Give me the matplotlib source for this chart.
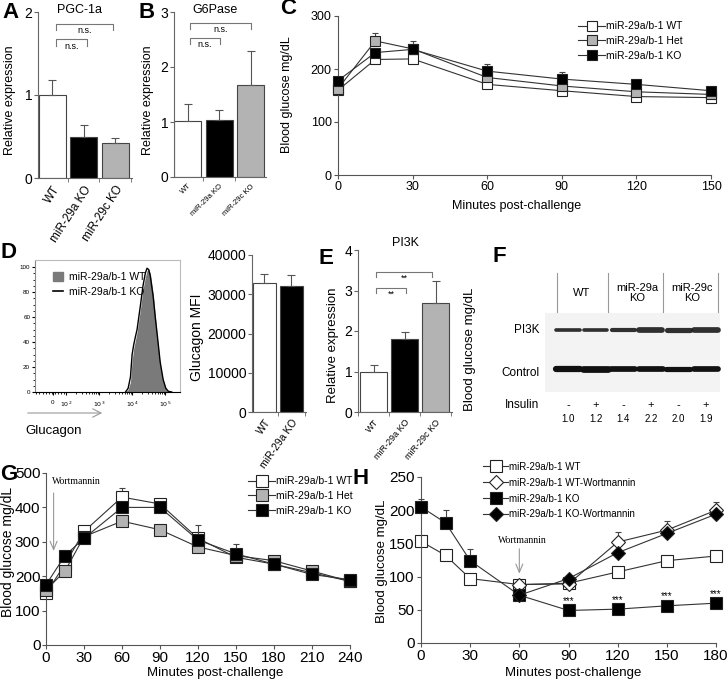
import numpy as np
import matplotlib
matplotlib.use('Agg')
from matplotlib import pyplot as plt, patches
from matplotlib.lines import Line2D

plt.rcParams['font.family'] = ['Liberation Sans', 'DejaVu Sans']
plt.rcParams['axes.linewidth'] = 0.8

W, H = 728, 682

# A: PGC-1a qPCR
pgc_groups = ['WT', 'miR-29a KO', 'miR-29c KO']
pgc_mean = [1.0, 0.50, 0.42]
pgc_err = [0.18, 0.14, 0.06]

# B: G6Pase qPCR
g6p_mean = [1.02, 1.04, 1.68]
g6p_err = [0.30, 0.18, 0.62]

# C: glucose tolerance
gtt_min = [0, 15, 30, 60, 90, 120, 150]
gtt_wt = [160, 218, 219, 171, 159, 148, 146]
gtt_het = [163, 253, 238, 184, 168, 157, 152]
gtt_ko = [178, 231, 237, 196, 181, 171, 159]
gtt_wt_err = [4, 6, 6, 5, 4, 4, 3]
gtt_het_err = [5, 14, 6, 6, 5, 4, 3]
gtt_ko_err = [6, 8, 16, 14, 14, 5, 4]

# D: glucagon flow histogram (x in decades) and MFI
hist_dec = [3.80, 3.88, 3.95, 4.00, 4.05, 4.09, 4.15, 4.24, 4.33, 4.40, 4.45,
            4.50, 4.55, 4.64, 4.70, 4.76, 4.85, 4.94, 5.02, 5.10, 5.20]
hist_wt = [0, 2, 8, 25, 35, 40, 48, 64, 82, 92, 97, 99, 95, 78, 62, 45, 22, 9, 3, 0.5, 0]
hist_ko = [0, 3, 12, 30, 38, 43, 50, 67, 85, 95, 99, 98, 93, 76, 60, 46, 24, 10, 3, 0.5, 0]
mfi_groups = ['WT', 'miR-29a KO']
mfi_mean = [32800, 32100]
mfi_err = [2300, 2700]

# E: PI3K qPCR
pi3k_mean = [1.0, 1.80, 2.69]
pi3k_err = [0.15, 0.18, 0.54]

# F: western blot
blot_groups = ['WT', 'miR-29a\nKO', 'miR-29c\nKO']
blot_insulin = ['-', '+', '-', '+', '-', '+']
blot_quant = ['1.0', '1.2', '1.4', '2.2', '2.0', '1.9']
band_pi3k = [3.5, 3.5, 4.0, 5.5, 5.0, 5.5]
band_ctrl = [6.0, 6.5, 5.5, 5.5, 5.0, 5.5]

# G: wortmannin challenge
wort_min = [0, 15, 30, 60, 90, 120, 150, 180, 210, 240]
wort_wt = [150, 235, 330, 430, 410, 310, 255, 235, 210, 185]
wort_het = [160, 215, 315, 360, 335, 285, 260, 245, 215, 185]
wort_ko = [175, 260, 310, 400, 400, 305, 265, 235, 205, 190]
wort_wt_err = [8, 10, 15, 25, 15, 10, 8, 6, 6, 5]
wort_ko_err = [10, 12, 10, 15, 12, 45, 30, 8, 6, 5]

# H: insulin tolerance +/- wortmannin
itt_min = [0, 15, 30, 60, 90, 120, 150, 180]
itt_wt = [153, 132, 97, 88, 90, 107, 124, 131]
itt_ko = [205, 181, 124, 72, 49, 51, 56, 60]
itt_ko_err = [12, 20, 17, 3, 3, 3, 3, 3]
wm_min = [60, 90, 120, 150, 180]
itt_wt_wm = [88, 89, 152, 170, 200]
itt_ko_wm = [72, 97, 136, 165, 194]
itt_wt_wm_err = [4, 5, 15, 14, 12]
star_min = [90, 120, 150, 180]

legend_names = ['miR-29a/b-1 WT', 'miR-29a/b-1 Het', 'miR-29a/b-1 KO']
GREY = '#b3b3b3'


def px_axes(fig, left, top, right, bottom):
    """Add axes from pixel box (origin top-left)."""
    return fig.add_axes([left / W, 1 - bottom / H, (right - left) / W, (bottom - top) / H])


def ftext(fig, x, y, s, **kw):
    fig.text(x / W, 1 - y / H, s, **kw)


def bar_panel(ax, means, errs, colors, labels, lsize, rot, fs=10):
    x = np.arange(len(means))
    ax.bar(x, means, width=0.86, color=colors, edgecolor='#444444', linewidth=0.8, zorder=2)
    ax.errorbar(x, means, yerr=[np.zeros(len(errs)), errs], fmt='none', ecolor='#555555',
                elinewidth=0.8, capsize=3, capthick=0.8, zorder=3)
    ax.spines[['top', 'right']].set_visible(False)
    for s in ['left', 'bottom']:
        ax.spines[s].set_color('#666666')
    ax.set_xticks(x)
    ax.set_xticklabels(labels, rotation=rot, ha='right', rotation_mode='anchor', fontsize=lsize)
    ax.set_xticks(np.arange(len(means) + 1) - 0.5, minor=True)
    ax.tick_params(axis='x', which='major', length=0, pad=4)
    ax.tick_params(axis='x', which='minor', length=3, color='#666666')
    ax.tick_params(axis='y', length=3, color='#666666', labelsize=fs, pad=1)


def bracket(ax, x0, x1, y, h, text, fs=6.5):
    ax.plot([x0, x0, x1, x1], [y - h, y, y, y - h], color='#777777', lw=0.8, clip_on=False)
    ax.text((x0 + x1) / 2, y - h * 0.4, text, ha='center', va='top', fontsize=fs)


def style_line_ax(ax, fs):
    ax.spines[['top', 'right']].set_visible(False)
    for s in ['left', 'bottom']:
        ax.spines[s].set_color('#555555')
    ax.tick_params(length=3, color='#555555', labelsize=fs, pad=1.5)


def line_series(ax, x, y, err, face, marker, ms, label, z):
    if err is not None:
        ax.errorbar(x, y, yerr=[np.zeros(len(err)), err], fmt='none', ecolor='#444444',
                    elinewidth=0.8, capsize=2.5, capthick=0.8, zorder=z, clip_on=False)
    ax.plot(x, y, '-', marker=marker, color='#333333', lw=0.8, mfc=face, mec='#222222',
            mew=0.8, ms=ms, label=label, zorder=z + 0.5, clip_on=False)


fig = plt.figure(figsize=(W / 100, H / 100), dpi=100)

# ---- A
ax = px_axes(fig, 38, 12, 132, 178)
bar_panel(ax, pgc_mean, pgc_err, ['white', 'black', GREY], pgc_groups, 8.5, 57)
ax.set_xlim(-0.45, 2.54)
ax.set_ylim(0, 2)
ax.set_yticks([0, 1, 2])
bracket(ax, 0.13, 1.11, 1.67, 0.08, 'n.s.')
bracket(ax, 0.13, 1.94, 1.86, 0.08, 'n.s.')
ftext(fig, 80, 10, 'PGC-1a', ha='center', va='center', fontsize=9)
ftext(fig, 10, 100, 'Relative expression', ha='center', va='center', rotation=90, fontsize=9)

# ---- B
ax = px_axes(fig, 174, 12, 266, 177)
bar_panel(ax, g6p_mean, g6p_err, ['white', 'black', GREY], pgc_groups, 5.5, 45)
ax.set_xlim(-0.43, 2.49)
ax.set_ylim(0, 3)
ax.set_yticks([0, 1, 2, 3])
bracket(ax, 0.08, 1.03, 2.53, 0.11, 'n.s.')
bracket(ax, 0.08, 2.0, 2.8, 0.11, 'n.s.')
ftext(fig, 215, 10, 'G6Pase', ha='center', va='center', fontsize=9)
ftext(fig, 148, 100, 'Relative expression', ha='center', va='center', rotation=90, fontsize=9)

# ---- C
ax = px_axes(fig, 338, 16, 711, 175)
style_line_ax(ax, 9)
line_series(ax, gtt_min, gtt_wt, gtt_wt_err, 'white', 's', 7.5, legend_names[0], 2)
line_series(ax, gtt_min, gtt_het, gtt_het_err, GREY, 's', 7.5, legend_names[1], 3)
line_series(ax, gtt_min, gtt_ko, gtt_ko_err, 'black', 's', 7.5, legend_names[2], 4)
ax.set_xlim(0, 150)
ax.set_ylim(0, 300)
ax.set_xticks(gtt_min[:1] + gtt_min[2:])
ax.set_yticks([0, 100, 200, 300])
ax.legend(loc='upper left', bbox_to_anchor=(573 / W, 1 - 16 / H), bbox_transform=fig.transFigure,
          frameon=False, fontsize=7.5, handlelength=2.6, labelspacing=0.45, borderpad=0,
          handletextpad=0.1)
ftext(fig, 517, 206, 'Minutes post-challenge', ha='center', va='center', fontsize=9)
ftext(fig, 287, 95, 'Blood glucose mg/dL', ha='center', va='center', rotation=90, fontsize=9)

# ---- D histogram
ax = px_axes(fig, 35, 260, 180, 392)
ax.fill_between(hist_dec, hist_wt, color='#7a7a7a', lw=0, label='miR-29a/b-1 WT')
ax.plot(hist_dec, hist_ko, color='black', lw=1.0, label='miR-29a/b-1 KO')
ax.set_xlim(1.06, 5.45)
ax.set_ylim(0, 105.6)
for s in ['top', 'right', 'left']:
    ax.spines[s].set_color('#bbbbbb')
ax.spines['left'].set_color('#888888')
ax.set_xticks([1.59, 2, 3, 4, 5])
ax.set_xticklabels(['0', '$10^2$', '$10^3$', '$10^4$', '$10^5$'])
minor = [d + np.log10(k) for d in [2, 3, 4] for k in range(2, 10)]
ax.set_xticks(minor + list(np.linspace(1.1, 1.95, 10)), minor=True)
ax.set_yticks([0, 20, 40, 60, 80, 100])
ax.set_yticks(np.arange(0, 105, 5), minor=True)
ax.tick_params(labelsize=4.5, length=2.5, pad=1)
ax.tick_params(which='minor', length=1.5)
ax.tick_params(axis='x', pad=3)
hh = [patches.Rectangle((0, 0), 1, 1, color='#7a7a7a'), Line2D([], [], color='black', lw=1.2)]
ax.legend(hh, ['miR-29a/b-1 WT', 'miR-29a/b-1 KO'], loc='upper left', frameon=False,
          fontsize=7.5, handlelength=1.0, handleheight=0.9, handletextpad=0.5,
          bbox_to_anchor=(0.06, 0.98))
fig.add_artist(patches.FancyArrowPatch((25 / W, 1 - 413 / H), (105 / W, 1 - 413 / H),
                                       transform=fig.transFigure, arrowstyle='->,head_length=6,head_width=3',
                                       color='#999999', lw=0.8))
ftext(fig, 25, 431, 'Glucagon', ha='left', va='center', fontsize=9.5)
ftext(fig, 1, 253, 'D', ha='left', va='center', fontsize=16, fontweight='bold')

# ---- D MFI
ax = px_axes(fig, 252, 255, 306, 412)
bar_panel(ax, mfi_mean, mfi_err, ['white', 'black'], mfi_groups, 7.5, 55, fs=10)
ax.set_xlim(-0.46, 1.54)
ax.set_ylim(0, 40000)
ax.set_yticks(range(0, 40001, 10000))
ftext(fig, 197, 337, 'Glucagon MFI', ha='center', va='center', rotation=90, fontsize=10)

# ---- E
ax = px_axes(fig, 358, 250, 452, 412)
bar_panel(ax, pi3k_mean, pi3k_err, ['white', 'black', GREY], pgc_groups, 6.5, 50)
ax.set_xlim(-0.5, 2.53)
ax.set_ylim(0, 4)
ax.set_yticks([0, 1, 2, 3, 4])
bracket(ax, 0.08, 1.05, 3.06, 0.12, '**')
bracket(ax, 0.08, 1.89, 3.46, 0.12, '**')
ftext(fig, 405, 243, 'PI3K', ha='center', va='center', fontsize=9)
ftext(fig, 333, 345, 'Relative expression', ha='center', va='center', rotation=90, fontsize=9.5)
ftext(fig, 470, 349, 'Blood glucose mg/dL', ha='center', va='center', rotation=90, fontsize=9.5)

# ---- F western blot (x in lanes, y in pixels)
ax = px_axes(fig, 480, 268, 728, 425)
ax.set_xlim(-3.19, 5.80)
ax.set_ylim(425, 268)
ax.axis('off')
lanes = np.arange(len(blot_insulin))
ax.add_patch(patches.Rectangle((-0.83, 313), 6.34, 79, color='#f3f3f3', lw=0))
for i in lanes:
    ax.plot([i - 0.42, i + 0.42], [330, 330], color='#1a1a1a', lw=band_pi3k[i] * 0.75,
            solid_capstyle='round', alpha=0.9)
    ax.plot([i - 0.44, i + 0.44], [369, 369], color='#111111', lw=band_ctrl[i] * 0.75,
            solid_capstyle='round')
    ax.text(i, 405, blot_insulin[i], ha='center', va='center', fontsize=8)
    ax.text(i, 419, blot_quant[i], ha='center', va='center', fontsize=7)
for g, name in enumerate(blot_groups):
    ax.text(2 * g + 0.5, 293, name, ha='center', va='center', fontsize=8, linespacing=1.0)
for sep in [-0.4, 1.45, 3.45, 5.45]:
    ax.plot([sep, sep], [273, 312], color='#999999', lw=0.8)
ax.text(-1.05, 330, 'PI3K', ha='right', va='center', fontsize=8.5)
ax.text(-1.05, 373, 'Control', ha='right', va='center', fontsize=8.5)
ax.text(-1.05, 405, 'Insulin', ha='right', va='center', fontsize=8.5)

# ---- G
ax = px_axes(fig, 46, 473, 350, 645)
style_line_ax(ax, 11)
line_series(ax, wort_min, wort_wt, wort_wt_err, 'white', 's', 8.5, legend_names[0], 2)
line_series(ax, wort_min, wort_het, None, GREY, 's', 8.5, legend_names[1], 3)
line_series(ax, wort_min, wort_ko, wort_ko_err, 'black', 's', 8.5, legend_names[2], 4)
ax.set_xlim(0, 240)
ax.set_ylim(0, 500)
ax.set_xticks(range(0, 241, 30))
ax.set_yticks(range(0, 501, 100))
ax.tick_params(axis='y', pad=1)
ax.legend(loc='upper left', bbox_to_anchor=(243 / W, 1 - 471 / H), bbox_transform=fig.transFigure,
          frameon=False, fontsize=7.5, handlelength=2.6, labelspacing=0.45, borderpad=0,
          handletextpad=0.1)
ax.annotate('', xy=(6, 265), xytext=(6, 450),
            arrowprops=dict(arrowstyle='->,head_length=0.6,head_width=0.25', color='#999999', lw=0.8))
ax.text(24, 474, 'Wortmannin', ha='center', va='center', fontsize=7, family='Liberation Serif')
ftext(fig, 215, 673, 'Minutes post-challenge', ha='center', va='center', fontsize=9.5)
ftext(fig, 8, 552, 'Blood glucose mg/dL', ha='center', va='center', rotation=90, fontsize=10)

# ---- H
ax = px_axes(fig, 421, 477, 716, 643)
style_line_ax(ax, 11)
line_series(ax, itt_min, itt_wt, None, 'white', 's', 8, 'miR-29a/b-1 WT', 2)
line_series(ax, wm_min, itt_wt_wm, itt_wt_wm_err, 'white', 'D', 7, 'miR-29a/b-1 WT-Wortmannin', 3)
line_series(ax, itt_min, itt_ko, itt_ko_err, 'black', 's', 8, 'miR-29a/b-1 KO', 4)
line_series(ax, wm_min, itt_ko_wm, None, 'black', 'D', 7, 'miR-29a/b-1 KO-Wortmannin', 5)
ko_at = dict(zip(itt_min, itt_ko))
for m in star_min:
    ax.text(m, ko_at[m] + 14, '***', ha='center', va='center', fontsize=7)
ax.set_xlim(0, 180)
ax.set_ylim(0, 250)
ax.set_xticks(range(0, 181, 30))
ax.set_yticks(range(0, 251, 50))
ax.legend(loc='upper left', bbox_to_anchor=(478 / W, 1 - 457 / H), bbox_transform=fig.transFigure,
          frameon=False, fontsize=7, handlelength=2.6, labelspacing=0.6, borderpad=0,
          handletextpad=0.1)
ax.annotate('', xy=(60, 100), xytext=(60, 146),
            arrowprops=dict(arrowstyle='->,head_length=0.6,head_width=0.25', color='#999999', lw=0.8))
ax.text(62, 155, 'Wortmannin', ha='center', va='center', fontsize=7, family='Liberation Serif')
ftext(fig, 573, 673, 'Minutes post-challenge', ha='center', va='center', fontsize=9.5)
ftext(fig, 382, 561, 'Blood glucose mg/dL', ha='center', va='center', rotation=90, fontsize=9.5)

# panel letters
for letter, x, y in [('A', 2, 12), ('B', 138, 12), ('C', 280, 9), ('E', 318, 258),
                     ('F', 492, 257), ('G', 0, 474), ('H', 353, 478)]:
    ftext(fig, x, y, letter, ha='left', va='center', fontsize=16, fontweight='bold')

fig.savefig('out.png', dpi=100)
